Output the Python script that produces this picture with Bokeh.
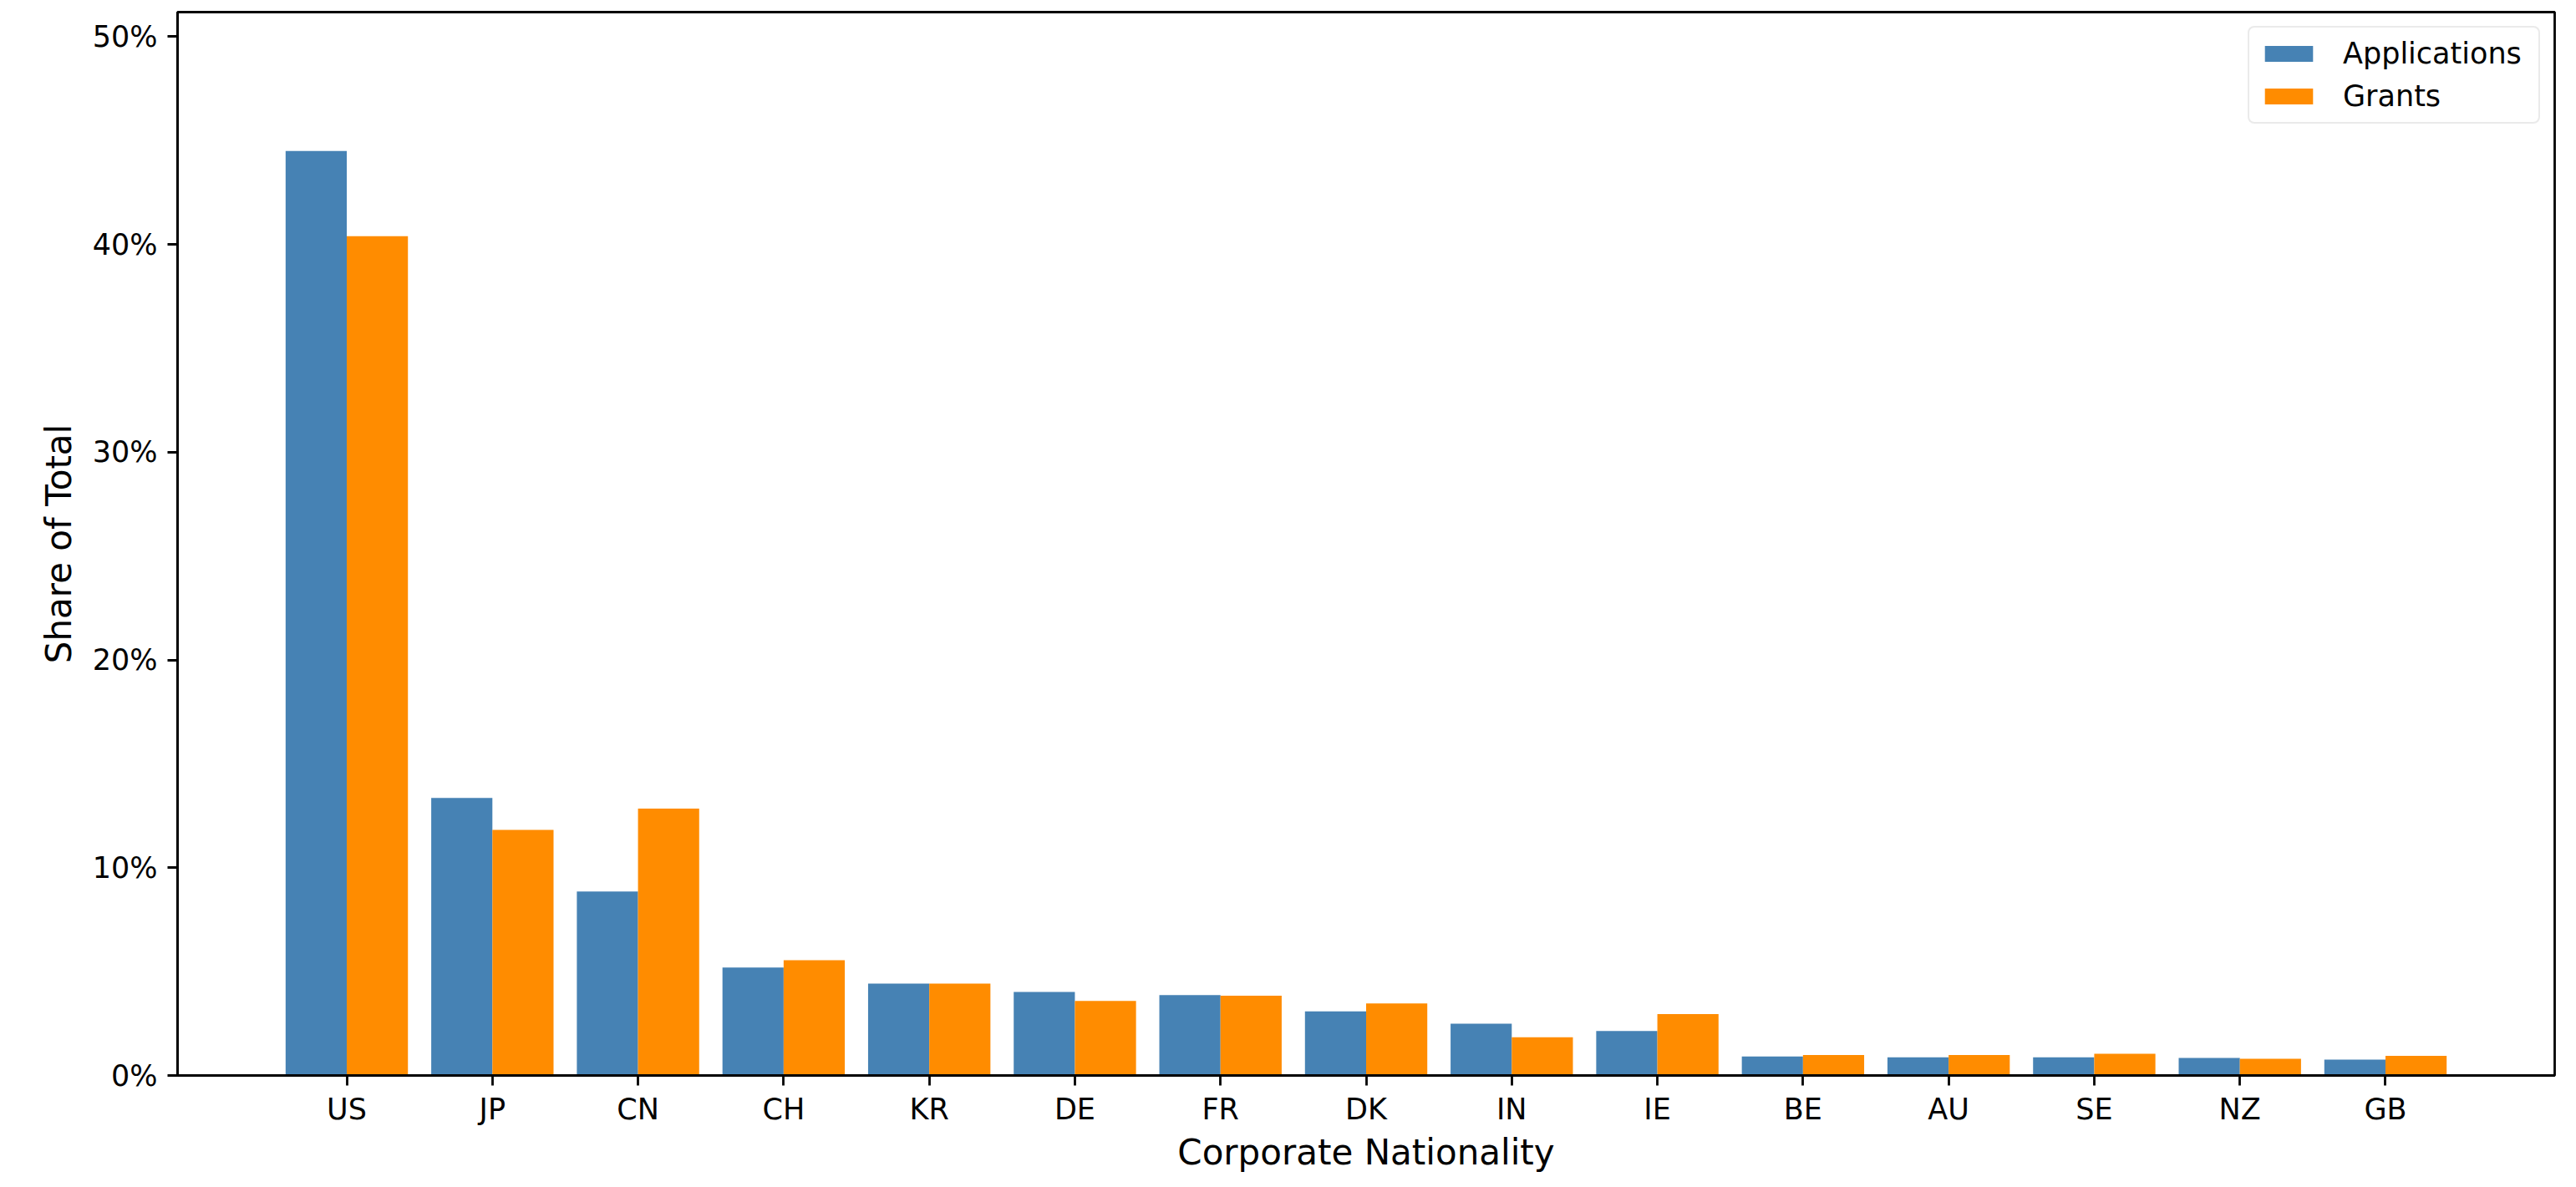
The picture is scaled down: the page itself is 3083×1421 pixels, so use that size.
from bokeh.plotting import figure
from bokeh.models import Range1d, FixedTicker, PrintfTickFormatter, Legend, LegendItem, ColumnDataSource
from bokeh.embed import file_html
from bokeh.resources import INLINE

countries = ["US", "JP", "CN", "CH", "KR", "DE", "FR", "DK", "IN", "IE", "BE", "AU", "SE", "NZ", "GB"]
applications = [44.5, 13.36, 8.85, 5.2, 4.42, 4.02, 3.87, 3.09, 2.49, 2.14, 0.91, 0.87, 0.87, 0.84, 0.76]
grants = [40.4, 11.82, 12.85, 5.55, 4.42, 3.59, 3.84, 3.47, 1.84, 2.96, 0.98, 0.98, 1.05, 0.80, 0.94]
y_ticks = [0, 10, 20, 30, 40, 50]
series_names = ["Applications", "Grants"]

FONT = "DejaVu Sans"
BAR_W = 0.42

idx = list(range(len(countries)))
src = ColumnDataSource(dict(
    x_app=[i - BAR_W / 2 for i in idx],
    x_gr=[i + BAR_W / 2 for i in idx],
    applications=applications,
    grants=grants,
))

p = figure(width=3067, height=1417, output_backend="svg", toolbar_location=None,
           x_range=Range1d(-1.162, len(countries) - 1 + 1.162), y_range=Range1d(0, 51.18))
p.min_border_left = 212
p.min_border_right = 10
p.min_border_top = 14
p.min_border_bottom = 130

r1 = p.vbar(x="x_app", top="applications", width=BAR_W, bottom=0, source=src,
            fill_color="#4682B4", line_color=None)
r2 = p.vbar(x="x_gr", top="grants", width=BAR_W, bottom=0, source=src,
            fill_color="#FF8C00", line_color=None)

p.xgrid.visible = False
p.ygrid.visible = False
p.outline_line_color = "black"
p.outline_line_width = 2.8
p.outline_line_alpha = 1.0

p.xaxis.ticker = FixedTicker(ticks=idx)
p.xaxis.major_label_overrides = {i: c for i, c in enumerate(countries)}
p.yaxis.ticker = FixedTicker(ticks=y_ticks)
p.yaxis.formatter = PrintfTickFormatter(format="%d%%")

for ax in (p.xaxis[0], p.yaxis[0]):
    ax.axis_line_color = "black"
    ax.axis_line_width = 2.8
    ax.major_tick_line_color = "black"
    ax.major_tick_line_width = 2.8
    ax.major_tick_out = 12
    ax.major_tick_in = 0
    ax.minor_tick_line_color = None
    ax.major_label_text_font = FONT
    ax.major_label_text_font_size = "35px"
    ax.major_label_text_color = "black"
    ax.axis_label_text_font = FONT
    ax.axis_label_text_font_size = "42px"
    ax.axis_label_text_font_style = "normal"
    ax.axis_label_text_color = "black"

p.xaxis.axis_label = "Corporate Nationality"
p.yaxis.axis_label = "Share of Total"
p.xaxis.major_label_standoff = 8
p.yaxis.major_label_standoff = 12
p.xaxis.axis_label_standoff = 4
p.yaxis.axis_label_standoff = 13

legend = Legend(items=[LegendItem(label=series_names[0], renderers=[r1]),
                       LegendItem(label=series_names[1], renderers=[r2])],
                location="top_right")
legend.margin = 17
legend.padding = 11
legend.spacing = 11
legend.glyph_width = 72
legend.glyph_height = 24
legend.label_height = 24
legend.label_width = 223
legend.label_standoff = 29
legend.label_text_font = FONT
legend.label_text_font_size = "35px"
legend.label_text_color = "black"
legend.border_line_color = "#d6d6d6"
legend.border_line_width = 2.5
legend.background_fill_color = "white"
legend.background_fill_alpha = 0.8
try:
    legend.border_radius = 8
except Exception:
    pass
p.add_layout(legend)

open("out.html", "w").write(file_html(p, INLINE))
